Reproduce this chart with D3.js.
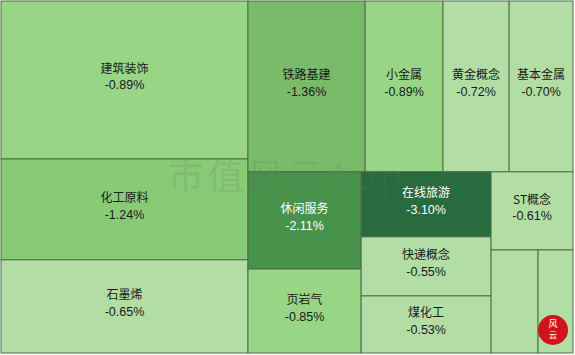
<!DOCTYPE html>
<html><head><meta charset="utf-8">
<script src="https://cdn.jsdelivr.net/npm/d3@7"></script>
<style>body{margin:0;background:#fff}svg{display:block}</style>
</head><body><svg id="c" width="575" height="355"></svg>
<script>
// Sector names, change (%) and relative size (block weight), with group path
const names   = ["建筑装饰","化工原料","石墨烯","铁路基建","小金属","黄金概念","基本金属","休闲服务","页岩气","在线旅游","快递概念","煤化工","ST概念","",""];
const changes = [-0.89,-1.24,-0.65,-1.36,-0.89,-0.72,-0.70,-2.11,-0.85,-3.10,-0.55,-0.53,-0.61,-0.50,-0.48];
const sizes   = [390,249,230,200,133,113,109,110,95,84.5,76.7,74.1,64,48.4,36];
const groups  = ["A","A","A","B/top","B/top","B/top","B/top","B/bot/1","B/bot/1","B/bot/2","B/bot/2","B/bot/2","B/bot/3","B/bot/3/s","B/bot/3/s"];
const colorSteps = ["#276b3f","#47934b","#78bb68","#88ca76","#98d585","#b2dea5"];
const colorThresholds = [-3,-2,-1.3,-1.0,-0.8];

// build nested structure
const root = {name:"root", children:[]};
function getNode(path){
  let node = root;
  for(const p of path.split("/")){
    let ch = node.children.find(c=>c.key===p);
    if(!ch){ ch={key:p,children:[]}; node.children.push(ch); }
    node = ch;
  }
  return node;
}
names.forEach((n,i)=>{
  getNode(groups[i]).children.push({name:n, change:changes[i], size:sizes[i]});
});

const W=572,H=352;
const h = d3.hierarchy(root).sum(d=>d.size||0);
d3.treemap().size([W,H]).tile(d3.treemapSliceDice).round(false)(h);

const color = d3.scaleThreshold().domain(colorThresholds).range(colorSteps);
const svg = d3.select("#c");
const g = svg.append("g").attr("transform","translate(1,1)");

const leaves = h.leaves();
g.selectAll("rect").data(leaves).join("rect")
  .attr("x",d=>d.x0).attr("y",d=>d.y0)
  .attr("width",d=>d.x1-d.x0).attr("height",d=>d.y1-d.y0)
  .attr("fill",d=>color(d.data.change))
  .attr("stroke","#4e6e46").attr("stroke-width",1);

// watermark
svg.append("text").attr("x",287).attr("y",190).attr("text-anchor","middle")
  .attr("font-family","'Noto Sans CJK SC'").attr("font-size",36)
  .attr("letter-spacing",4)
  .attr("fill","rgba(110,110,110,0.17)").text("市值风云App");

const lab = g.selectAll("g.l").data(leaves.filter(d=>d.data.name)).join("g")
  .attr("transform",d=>`translate(${(d.x0+d.x1)/2},${(d.y0+d.y1)/2})`);
lab.append("text").attr("y",-7).attr("text-anchor","middle")
  .attr("font-family","'Noto Sans CJK SC'").attr("font-size",12)
  .attr("fill",d=>d.data.change<-2?"#ffffff":"#1a1a1a")
  .text(d=>d.data.name);
lab.append("text").attr("y",9.5).attr("text-anchor","middle")
  .attr("font-family","'Liberation Sans',Arial").attr("font-size",12.5)
  .attr("fill",d=>d.data.change<-2?"#ffffff":"#1a1a1a")
  .text(d=>d.data.change.toFixed(2)+"%");

// seal logo
svg.append("circle").attr("cx",553).attr("cy",330).attr("r",15).attr("fill","#d0141c");
svg.append("text").attr("x",553).attr("y",327).attr("text-anchor","middle")
  .attr("font-family","'Noto Sans CJK SC'").attr("font-size",9).attr("fill","#fff").text("风");
svg.append("text").attr("x",553).attr("y",338).attr("text-anchor","middle")
  .attr("font-family","'Noto Sans CJK SC'").attr("font-size",8).attr("fill","#fff").text("云");
</script></body></html>
